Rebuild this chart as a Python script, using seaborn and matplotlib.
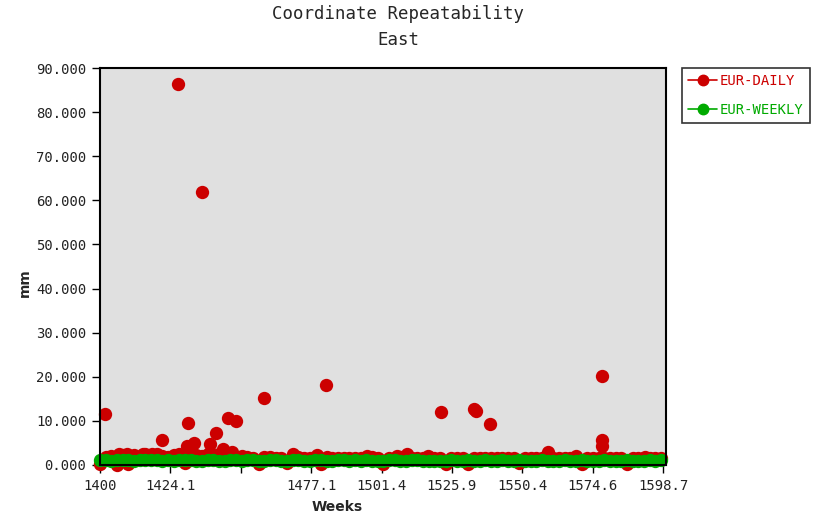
import numpy as np
import pandas as pd
import matplotlib
matplotlib.use("Agg")
import matplotlib.pyplot as plt
from matplotlib.lines import Line2D
from matplotlib.ticker import FormatStrFormatter
import seaborn as sns

# ---------------- data ----------------
title_line1 = "Coordinate Repeatability"
title_line2 = "East"
series_names = ["EUR-DAILY", "EUR-WEEKLY"]
series_colors = ["#cc0000", "#00aa00"]

x_tick_labels = ["1400", "1424.1", "", "1477.1", "1501.4", "1525.9", "1550.4", "1574.6", "1598.7"]
y_ticks = [0, 10, 20, 30, 40, 50, 60, 70, 80, 90]

weekly_weeks = np.arange(1400, 1599, 2)
weekly_mm = [
    1.2, 1.1, 1.0, 1.1, 1.1, 1.1, 1.0, 1.1, 1.2, 1.1,
    1.1, 1.0, 1.1, 1.0, 1.1, 1.2, 1.1, 1.0, 1.0, 1.1,
    1.1, 1.0, 1.0, 1.1, 1.1, 1.0, 1.1, 1.1, 1.0, 1.0,
    1.1, 1.1, 1.0, 1.0, 1.1, 1.1, 1.0, 1.0, 1.1, 1.1,
    1.0, 1.0, 1.1, 1.1, 1.0, 1.1, 1.0, 1.1, 1.0, 1.0,
    1.0, 1.1, 1.2, 1.0, 1.0, 1.1, 1.1, 1.0, 1.0, 1.0,
    1.0, 1.0, 1.1, 1.0, 1.0, 1.1, 1.0, 1.0, 1.1, 1.0,
    1.0, 1.1, 1.0, 1.0, 1.1, 1.0, 1.0, 1.0, 1.1, 1.0,
    1.0, 1.0, 1.1, 1.0, 1.0, 1.1, 1.0, 1.0, 1.0, 1.1,
    1.0, 1.0, 1.0, 1.1, 1.0, 1.0, 1.0, 1.1, 1.0, 1.1,
]

daily_base_weeks = np.arange(1400, 1599, 2)
daily_base_mm = [
    0.2, 1.8, 2.0, 0.1, 2.3, 0.3, 2.2, 1.9, 2.4, 1.8,
    2.5, 2.1, 1.9, 2.2, 2.4, 0.4, 2.6, 2.3, 2.0, 2.5,
    2.2, 2.4, 2.1, 2.6, 1.9, 2.0, 1.8, 1.7, 0.3, 1.9,
    1.8, 1.7, 1.7, 0.4, 1.9, 1.8, 1.7, 1.7, 1.6, 0.2,
    1.8, 1.7, 1.6, 1.7, 1.6, 1.7, 1.6, 1.6, 1.8, 1.6,
    0.3, 1.7, 1.6, 1.8, 1.7, 1.6, 1.6, 1.7, 1.8, 1.6,
    1.7, 0.2, 1.6, 1.7, 1.6, 0.3, 1.7, 1.6, 1.6, 1.7,
    1.6, 1.6, 1.6, 1.7, 0.4, 1.6, 1.7, 1.6, 1.6, 1.6,
    1.6, 1.6, 1.5, 1.6, 1.6, 0.3, 1.6, 1.6, 1.5, 1.6,
    1.5, 1.6, 1.6, 0.2, 1.5, 1.6, 1.6, 1.5, 1.6, 1.6,
]

daily_extra_weeks = [
    1401.8, 1427.6, 1436.1, 1430.9, 1445.1, 1448.0, 1457.9, 1440.8, 1421.8,
    1433.2, 1430.6, 1438.8, 1443.5, 1446.5, 1479.6, 1520.2, 1532.1, 1532.7,
    1537.8, 1577.0, 1577.0, 1577.0, 1558.2, 1567.9, 1406.8, 1409.4, 1415.3,
    1418.2, 1468.2, 1476.5, 1494.3, 1504.7, 1508.2, 1515.6, 1592.3,
]
daily_extra_mm = [
    11.6, 86.3, 61.8, 9.6, 10.7, 9.9, 15.3, 7.2, 5.7,
    4.9, 4.2, 4.8, 3.6, 3.0, 18.1, 12.1, 12.6, 12.3,
    9.3, 20.2, 5.7, 4.3, 2.9, 2.0, 2.6, 2.4, 2.6,
    2.6, 2.4, 2.2, 2.1, 2.1, 2.4, 2.0, 1.9,
]

# ---------------- frames ----------------
daily_df = pd.DataFrame({
    "week": np.concatenate([daily_base_weeks, daily_extra_weeks]),
    "mm": np.concatenate([daily_base_mm, daily_extra_mm]),
    "series": series_names[0],
})
weekly_df = pd.DataFrame({"week": weekly_weeks, "mm": weekly_mm, "series": series_names[1]})

# ---------------- style ----------------
sns.set_style("ticks")
mono = ["DejaVu Sans Mono", "DejaVu Sans"]
plt.rcParams["font.family"] = mono

fig = plt.figure(figsize=(8.17, 5.18), dpi=100, facecolor="white")
ax = fig.add_axes([100 / 817, 1 - 465 / 518, 566 / 817, 397 / 518])
ax.set_facecolor("#e0e0e0")

marker_s = 92
sns.scatterplot(data=daily_df, x="week", y="mm", color=series_colors[0], s=marker_s,
                linewidth=0, ax=ax, clip_on=False, legend=False, zorder=2)
sns.scatterplot(data=weekly_df, x="week", y="mm", color=series_colors[1], s=marker_s,
                linewidth=0, ax=ax, clip_on=False, legend=False, zorder=2)

x_lo, x_hi = 1400.0, 1598.7
x_ticks = np.linspace(x_lo, x_hi, len(x_tick_labels))
step = x_ticks[1] - x_ticks[0]
ax.set_xlim(x_lo, x_hi + step * 3 / 70.4)
ax.set_ylim(0, 90)
ax.set_xticks(x_ticks)
ax.set_xticklabels(x_tick_labels)
ax.set_yticks(y_ticks)
ax.yaxis.set_major_formatter(FormatStrFormatter("%.3f"))
ax.tick_params(axis="both", direction="out", length=6, width=1, colors="black",
               labelsize=10, pad=4)
for lab in ax.get_xticklabels() + ax.get_yticklabels():
    lab.set_color("#222222")

for sp in ax.spines.values():
    sp.set_visible(True)
    sp.set_color("black")
    sp.set_linewidth(1.5)
    sp.set_zorder(3)

ax.set_xlabel("Weeks", fontsize=10, fontweight="bold", family="DejaVu Sans")
ax.xaxis.set_label_coords((337 - 100) / 566, (465 - 507) / 397)
ax.xaxis.label.set_va("center")
ax.set_ylabel("mm", fontsize=10, fontweight="bold", family="DejaVu Sans")
ax.yaxis.set_label_coords((25 - 100) / 566, (465 - 283) / 397)
ax.yaxis.label.set_va("center")

fig.text(398 / 817, 1 - 14 / 518, title_line1, ha="center", va="center", fontsize=12.5)
fig.text(398 / 817, 1 - 40 / 518, title_line2, ha="center", va="center", fontsize=12.5)

handles = [Line2D([0], [0], color=c, marker="o", markersize=7.5, linewidth=1.2)
           for c in series_colors]
leg = fig.legend(handles, series_names, loc="upper left",
                 bbox_to_anchor=(682 / 817, 1 - 68 / 518), frameon=True, fancybox=False,
                 fontsize=10, handlelength=2.1, handletextpad=0.15, labelspacing=1.05,
                 borderpad=0.45, borderaxespad=0)
leg.get_frame().set_edgecolor("black")
leg.get_frame().set_linewidth(1.2)
for txt, c in zip(leg.get_texts(), series_colors):
    txt.set_color(c)

fig.savefig("out.png", dpi=100, facecolor="white")
